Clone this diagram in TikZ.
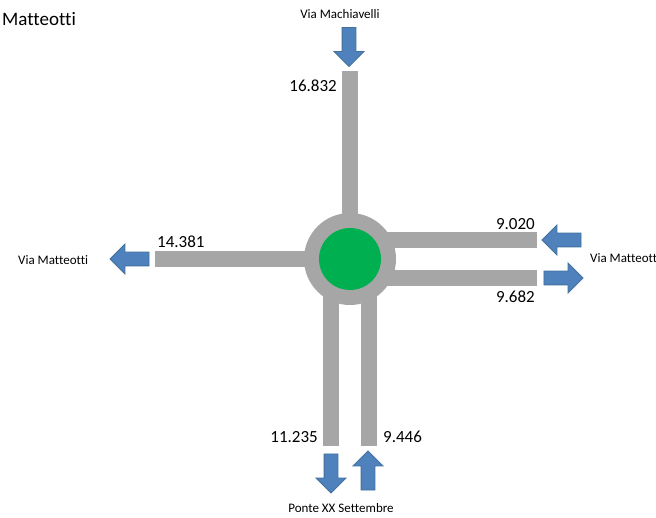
\documentclass[tikz,border=0pt]{standalone}
\usepackage{fontspec}
\setmainfont{Carlito}[Ligatures=NoCommon]
\usetikzlibrary{shapes.arrows,positioning}
\definecolor{roadgray}{HTML}{A6A6A6}
\definecolor{ringgreen}{HTML}{00B050}
\definecolor{arrowblue}{HTML}{4F81BD}
\definecolor{arrowedge}{HTML}{41719C}

\begin{document}
\begin{tikzpicture}[x=1pt,y=-1pt,
  road/.style={draw=roadgray,line width=16pt},
  flow/.style={single arrow,draw=arrowedge,fill=arrowblue,line width=0.8pt,
    minimum height=39pt,inner sep=6.5pt,
    single arrow head extend=8pt,text height=0pt,text depth=0pt},
  count/.style={inner sep=0pt,font=\fontsize{17}{20}\selectfont},
  street/.style={inner sep=0pt,font=\fontsize{13}{15}\selectfont}]
\useasboundingbox[fill=white] (0,0) rectangle (656,518);

% roundabout
\node[circle,fill=roadgray,minimum size=92pt,inner sep=0pt] (ring) at (350,259) {};
\coordinate (nEnd) at (350,71);
\coordinate (wEnd) at (155,259);
\coordinate (eIn) at (537,240);
\coordinate (eOut) at (537,278);
\coordinate (sOut) at (331,446);
\coordinate (sIn) at (369,446);
\draw[road] (nEnd) -- (ring.center);
\draw[road] (wEnd) -- (ring.center);
\draw[road] (eIn) -- (eIn -| ring.center);
\draw[road] (eOut) -- (eOut -| ring.center);
\draw[road] (sOut) -- (sOut |- ring.center);
\draw[road] (sIn) -- (sIn |- ring.center);
\node[circle,fill=ringgreen,minimum size=62pt,inner sep=0pt] (island) at (ring.center) {};

% flows
\node[flow,shape border rotate=270] (nArr) at (349,43.5) {};
\node[flow,shape border rotate=180] (wArr) at (133,259) {};
\node[flow,shape border rotate=180] (eInArr) at (565,240) {};
\node[flow] (eOutArr) at (560,278) {};
\node[flow,shape border rotate=270] (sOutArr) at (331,470) {};
\node[flow,shape border rotate=90] (sInArr) at (368,474) {};

% counts
\node[count,anchor=east] (nCount) at (337,86) {16.832};
\node[count,anchor=west] (wCount) at (157,242) {14.381};
\node[count,anchor=east] (eInCount) at (535,224) {9.020};
\node[count,anchor=east] (eOutCount) at (535,297) {9.682};
\node[count,anchor=east] (sOutCount) at (318,437) {11.235};
\node[count,anchor=west] (sInCount) at (383,437) {9.446};

% streets
\node[inner sep=0pt,anchor=west,font=\fontsize{19}{22}\selectfont] (title) at (2,19) {Matteotti};
\node[street] (nStreet) at (340,14) {Via Machiavelli};
\node[street,anchor=west] (wStreet) at (18,260) {Via Matteotti};
\node[street,anchor=west] (eStreet) at (590,258) {Via Matteott};
\node[street] (sStreet) at (341,508) {Ponte XX Settembre};
\end{tikzpicture}
\end{document}
